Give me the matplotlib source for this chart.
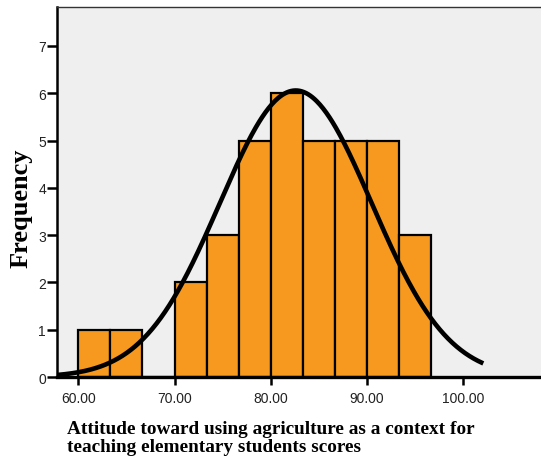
import numpy as np
import matplotlib.pyplot as plt

# histogram data
bin_edges = [60.0, 63.333, 66.667, 70.0, 73.333, 76.667, 80.0, 83.333, 86.667, 90.0, 93.333, 96.667]
counts = [1, 1, 0, 2, 3, 5, 6, 5, 5, 5, 3]

# fitted normal curve parameters
mean_score = 82.6
sd_score = 7.9
n_total = sum(counts)
curve_range = [57.8, 102.1]

x_ticks = [60, 70, 80, 90, 100]
y_ticks = [0, 1, 2, 3, 4, 5, 6, 7]

fig = plt.figure(figsize=(5.41, 4.64), dpi=100)
ax = fig.add_axes([0.1054, 0.1853, 0.8946, 0.797])
ax.set_facecolor("#EFEFEF")

lefts = np.array(bin_edges[:-1])
widths = np.diff(bin_edges)
ax.bar(lefts, counts, width=widths, align="edge", color="#F7991F",
       edgecolor="black", linewidth=1.6, zorder=2)

xs = np.linspace(curve_range[0], curve_range[1], 400)
bw = widths[0]
ys = n_total * bw / (sd_score * np.sqrt(2 * np.pi)) * np.exp(-(xs - mean_score) ** 2 / (2 * sd_score ** 2))
ax.plot(xs, ys, color="black", linewidth=3.3, zorder=3, solid_capstyle="butt")

ax.set_xlim(57.78, 108.1)
ax.set_ylim(0, 7.82)
ax.set_xticks(x_ticks)
ax.set_xticklabels([f"{v:.2f}" for v in x_ticks])
ax.set_yticks(y_ticks)

ax.spines["right"].set_visible(False)
ax.spines["top"].set_linewidth(1.0)
ax.spines["top"].set_color("#333333")
ax.spines["left"].set_linewidth(1.8)
ax.spines["bottom"].set_linewidth(2.4)
ax.spines["bottom"].set_zorder(4)

ax.tick_params(axis="y", length=7, width=1.8, labelsize=10, pad=1,
               labelfontfamily="Liberation Sans", labelcolor="#222222")
ax.tick_params(axis="x", length=6, width=1.8, labelsize=10, pad=4,
               labelfontfamily="Liberation Sans", labelcolor="#222222")

ax.set_ylabel("Frequency", fontsize=19, fontweight="bold",
              family="Liberation Serif")
ax.yaxis.set_label_coords(-0.051, 0.46)

fig.text(67 / 541, 1 - 421 / 464,
         "Attitude toward using agriculture as a context for\nteaching elementary students scores",
         ha="left", va="top", fontsize=13.9, fontweight="bold",
         family="Liberation Serif", linespacing=1.05)

fig.savefig("out.png", dpi=100)
